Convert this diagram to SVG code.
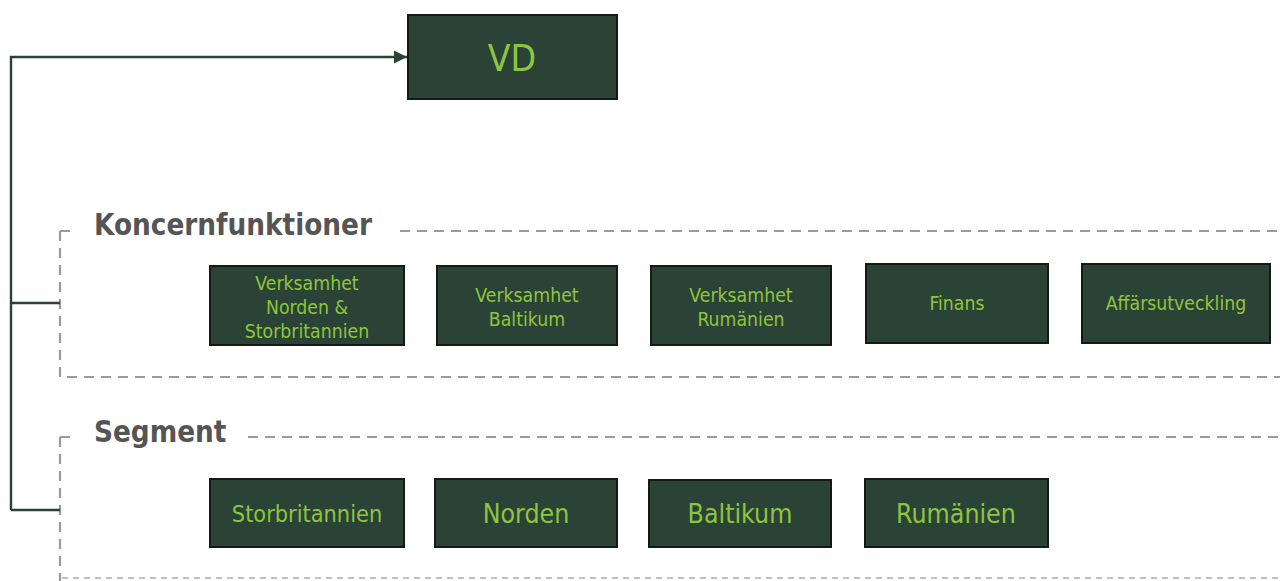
<svg xmlns="http://www.w3.org/2000/svg" width="1280" height="581" viewBox="0 0 1280 581">
<defs>
<marker id="arr" viewBox="0 0 10 10" refX="10" refY="5" markerWidth="5.5" markerHeight="6" orient="auto" markerUnits="strokeWidth"><path d="M0,0 L10,5 L0,10 z" fill="#2b4236"/></marker>
<style>
.box{fill:#2b4236;stroke:#141a16;stroke-width:2}
.t{fill:#8cc63f;font-family:"DejaVu Sans Condensed","DejaVu Sans",Verdana,sans-serif;font-stretch:condensed;text-anchor:middle}
.s{font-size:19.3px}
.m{font-size:26.5px}
.title{fill:#555;font-family:"DejaVu Sans Condensed","DejaVu Sans",Verdana,sans-serif;font-stretch:condensed;font-weight:bold;font-size:29.3px}
.dash{fill:none;stroke:#9a9a9a;stroke-width:2.2;stroke-dasharray:10 7}
.dot{fill:none;stroke:#aaa;stroke-width:1.5;stroke-dasharray:6 5}
.conn{fill:none;stroke:#2b4236;stroke-width:2.4}
</style>
</defs>
<rect width="1280" height="581" fill="#fff"/>
<g id="frames">
<path class="dash" d="M60,231 H72 M400,231 H1280 M60,231 V377 H1280"/>
<text class="title" x="94" y="235">Koncernfunktioner</text>
<path class="dash" d="M60,437 H72 M248,437 H1280 M60,437 V581"/>
<path class="dot" d="M62,578 H1280"/>
<text class="title" x="94" y="442">Segment</text>
</g>
<g id="connectors">
<path class="conn" d="M11,510 V57 H407" marker-end="url(#arr)"/>
<path class="conn" d="M11,303 H60 M11,510 H60"/>
</g>
<g id="vd"><rect class="box" x="408" y="15" width="209" height="84"/><text class="t" x="512" y="71" font-size="37px">VD</text></g>
<g id="k1"><rect class="box" x="210" y="266" width="194" height="79"/><text class="t s" x="307" y="290">Verksamhet</text><text class="t s" x="307" y="314">Norden &amp;</text><text class="t s" x="307" y="338">Storbritannien</text></g>
<g id="k2"><rect class="box" x="437" y="266" width="180" height="79"/><text class="t s" x="527" y="302">Verksamhet</text><text class="t s" x="527" y="326">Baltikum</text></g>
<g id="k3"><rect class="box" x="651" y="266" width="180" height="79"/><text class="t s" x="741" y="302">Verksamhet</text><text class="t s" x="741" y="326">Rumänien</text></g>
<g id="k4"><rect class="box" x="866" y="264" width="182" height="79"/><text class="t s" x="957" y="310">Finans</text></g>
<g id="k5"><rect class="box" x="1082" y="264" width="188" height="79"/><text class="t s" x="1176" y="310">Affärsutveckling</text></g>
<g id="s1"><rect class="box" x="210" y="479" width="194" height="68"/><text class="t" x="307" y="522" font-size="23.3px">Storbritannien</text></g>
<g id="s2"><rect class="box" x="435" y="479" width="182" height="68"/><text class="t m" x="526" y="523">Norden</text></g>
<g id="s3"><rect class="box" x="649" y="480" width="182" height="67"/><text class="t m" x="740" y="523">Baltikum</text></g>
<g id="s4"><rect class="box" x="865" y="479" width="183" height="68"/><text class="t m" x="956" y="523">Rumänien</text></g>
</svg>
